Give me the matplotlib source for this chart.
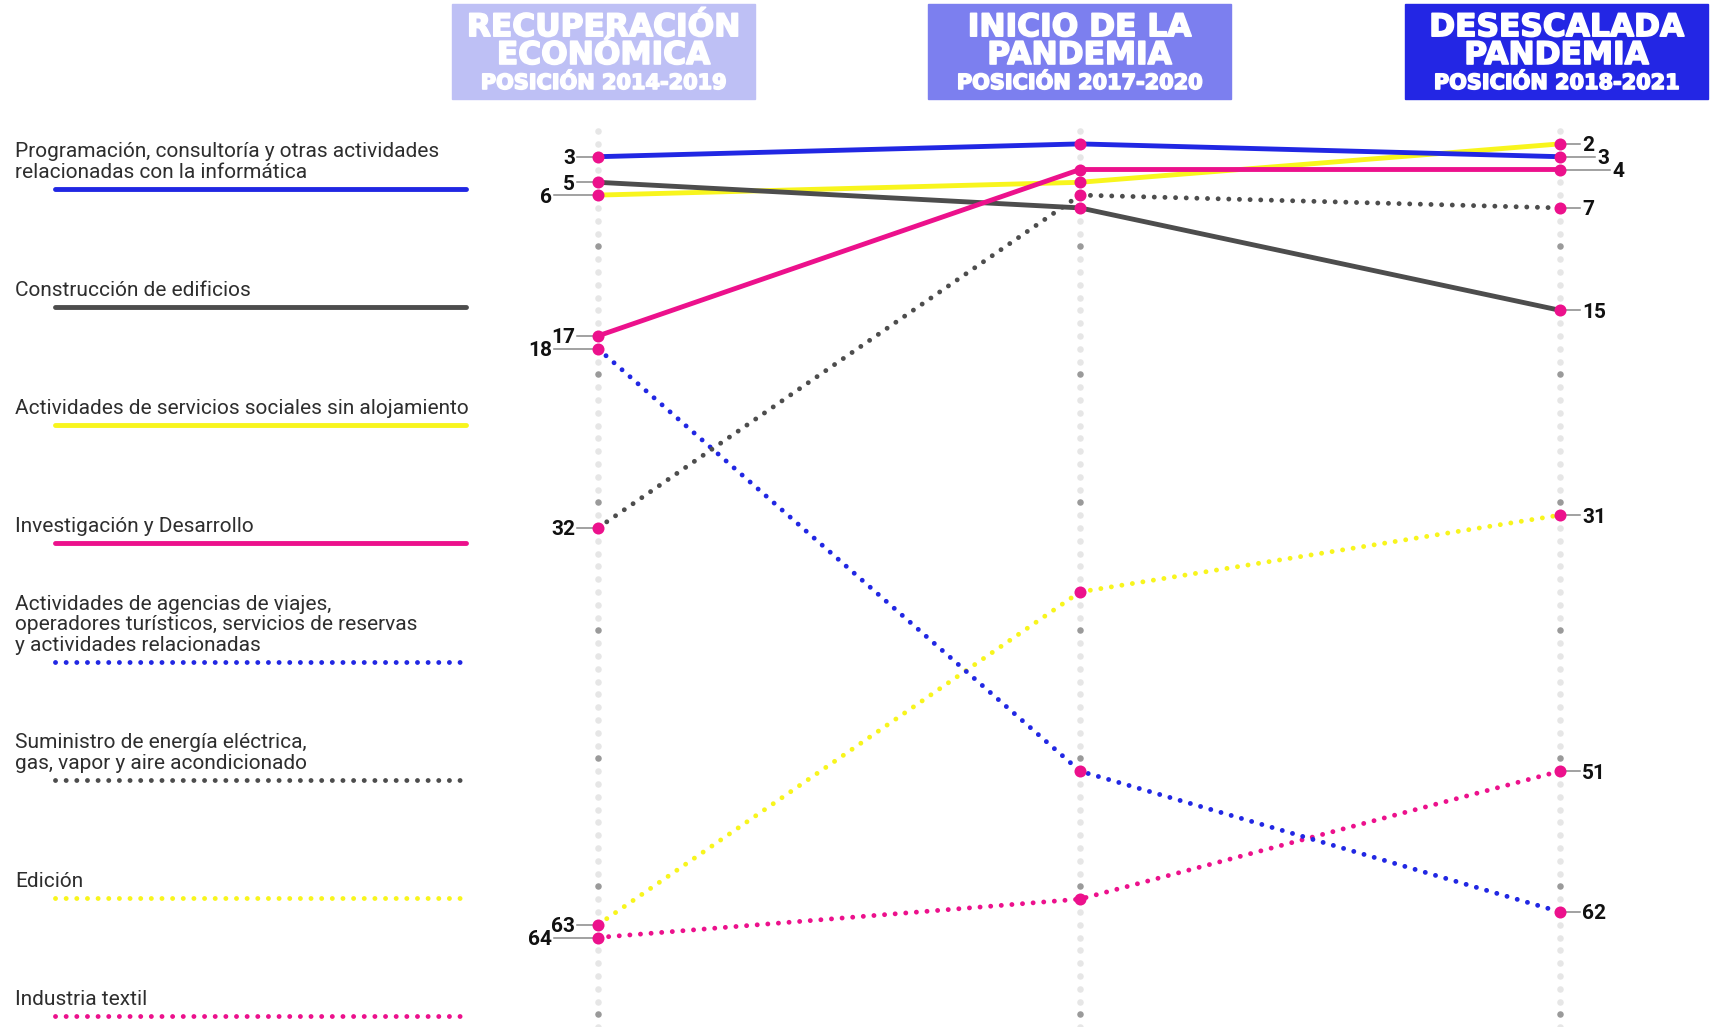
import matplotlib
matplotlib.use("Agg")

import matplotlib.pyplot as plt
import matplotlib.patheffects as pe
import matplotlib.transforms as mtransforms
import numpy as np

W, H = 1721, 1027

# sectors (legend order) and their ranking in each period
sectors = [
    "Programación, consultoría y otras actividades\nrelacionadas con la informática",
    "Construcción de edificios",
    "Actividades de servicios sociales sin alojamiento",
    "Investigación y Desarrollo",
    "Actividades de agencias de viajes,\noperadores turísticos, servicios de reservas\ny actividades relacionadas",
    "Suministro de energía eléctrica,\ngas, vapor y aire acondicionado",
    "Edición",
    "Industria textil",
]
rank_2019 = [3, 5, 6, 17, 18, 32, 63, 64]
rank_2020 = [2, 7, 5, 4, 51, 6, 37, 61]
rank_2021 = [3, 15, 2, 4, 62, 7, 31, 51]

period_titles = ["RECUPERACIÓN\nECONÓMICA", "INICIO DE LA\nPANDEMIA", "DESESCALADA\nPANDEMIA"]
period_years = ["POSICIÓN 2014-2019", "POSICIÓN 2017-2020", "POSICIÓN 2018-2021"]

BLUE = "#2127E3"
GRAY = "#4D4D4D"
YELLOW = "#F8F51D"
PINK = "#EC118C"
line_colors = [BLUE, GRAY, YELLOW, PINK, BLUE, GRAY, YELLOW, PINK]
line_dotted = [False, False, False, False, True, True, True, True]
header_colors = ["#BEC0F5", "#7C7FEF", "#2326E4"]

COL_X = [598, 1080, 1560]        # pixel x of the three columns
HEAD_X = [603.5, 1079.5, 1556.5]  # pixel centre of the header boxes
Y3, STEP = 156.7, 12.8           # pixel y of rank 3, pixels per rank
N_GRID = 71
LW = 3.5
DOTS = (0.01, 2.18)

fig = plt.figure(figsize=(W / 100, H / 100), dpi=100)
ax = fig.add_axes([0, 0, 1, 1])
ax.set_xlim(0, W)
ax.set_ylim(3 + (H - Y3) / STEP, 3 - Y3 / STEP)
ax.axis("off")

# pixel transform with origin at top-left
pix = mtransforms.Affine2D().scale(1 / W, -1 / H).translate(0, 1) + fig.transFigure

# grid dots on each column
grid = np.arange(1, N_GRID + 1)
for x in COL_X:
    light = grid[grid % 10 != 0]
    dark = grid[grid % 10 == 0]
    ax.scatter(np.full(light.size, x), light, s=22, color="#E6E6E6", lw=0, zorder=1)
    ax.scatter(np.full(dark.size, x), dark, s=22, color="#9A9A9A", lw=0, zorder=1)

# slope lines
draw_order = [6, 7, 4, 5, 2, 1, 3, 0]
for z, i in enumerate(draw_order):
    ys = [rank_2019[i], rank_2020[i], rank_2021[i]]
    if line_dotted[i]:
        ax.plot(COL_X, ys, color=line_colors[i], lw=LW, dashes=DOTS,
                dash_capstyle="round", zorder=3 + z * 0.1)
    else:
        ax.plot(COL_X, ys, color=line_colors[i], lw=LW, solid_capstyle="butt",
                zorder=3 + z * 0.1)
for x, ranks in zip(COL_X, (rank_2019, rank_2020, rank_2021)):
    ax.scatter([x] * len(ranks), ranks, s=75, color=PINK, lw=0, zorder=10)


def stagger(ranks):
    levels, prev, lvl = {}, None, 0
    for r in sorted(ranks):
        lvl = lvl + 1 if prev is not None and r - prev == 1 else 0
        levels[r] = lvl
        prev = r
    return levels


num_font = dict(family="Roboto", fontweight="bold", fontsize=15, color="#111111")

# left column labels
lv = stagger(rank_2019)
for r in rank_2019:
    end = COL_X[0] - 23 - 23 * lv[r]
    ax.plot([end + 2, COL_X[0] - 5], [r, r], color="#888888", lw=1.1, zorder=2)
    ax.text(end, r, str(r), ha="right", va="center_baseline", **num_font)

# right column labels
lv = stagger(rank_2021)
for r in rank_2021:
    start = COL_X[2] + 22 + 15 * lv[r]
    ax.plot([COL_X[2] + 5, start - 2], [r, r], color="#888888", lw=1.1, zorder=2)
    ax.text(start, r, str(r), ha="left", va="center_baseline", **num_font)

# column headers
box_w, box_top, box_h = 303, 4.4, 94.4
heavy = [pe.withStroke(linewidth=1.2, foreground="white")]
for cx, title, years, c in zip(HEAD_X, period_titles, period_years, header_colors):
    fig.patches.append(plt.Rectangle((cx - box_w / 2, box_top), box_w, box_h,
                                     transform=pix, color=c, zorder=0))
    fig.text(cx, 64, title, transform=pix, ha="center", va="baseline",
             multialignment="center", linespacing=0.95,
             family="DejaVu Sans", fontweight="bold", fontsize=22.5, color="white",
             path_effects=heavy)
    fig.text(cx, 89, years, transform=pix, ha="center", va="baseline",
             family="DejaVu Sans", fontweight="bold", fontsize=15, color="white",
             path_effects=heavy)

# legend on the left
for i, name in enumerate(sectors):
    ly = 188.8 + i * 118.2
    fig.text(15, ly - 11, name, transform=pix,
             ha="left", va="baseline", linespacing=1.1,
             family="Roboto", fontweight="normal", fontsize=15.0, color="#2E2E2E")
    if line_dotted[i]:
        fig.lines.append(plt.Line2D([55, 466], [ly, ly], transform=pix,
                                    color=line_colors[i], lw=LW, dashes=DOTS,
                                    dash_capstyle="round"))
    else:
        fig.lines.append(plt.Line2D([55, 466], [ly, ly], transform=pix,
                                    color=line_colors[i], lw=LW,
                                    solid_capstyle="round"))

fig.savefig("out.png", dpi=100)
